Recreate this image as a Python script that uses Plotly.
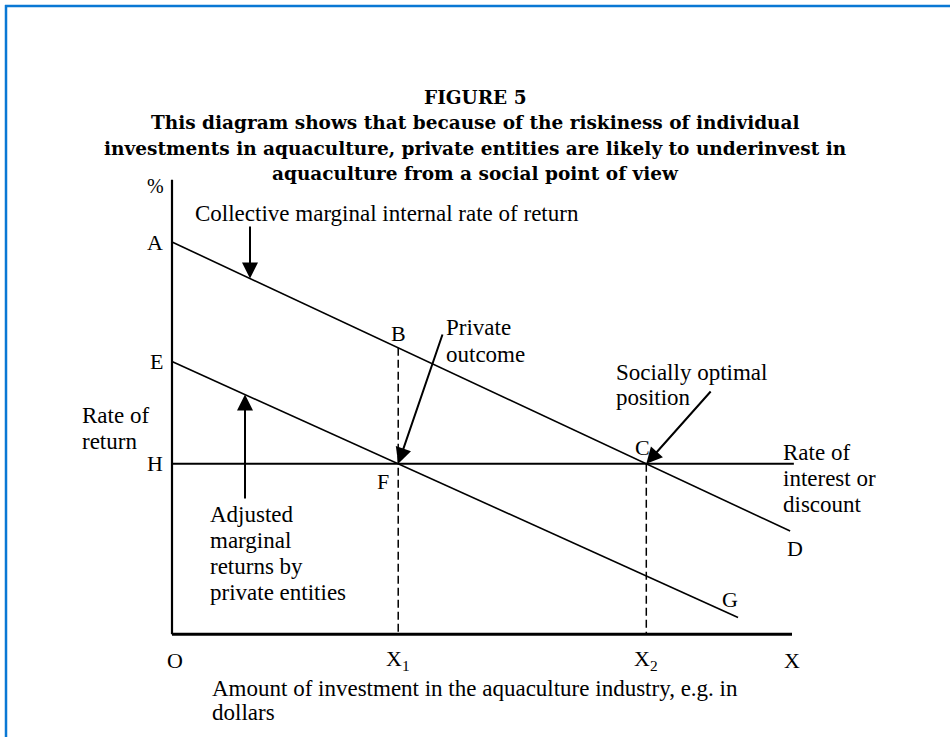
import plotly.graph_objects as go

# ---------------- data (abstract units) ----------------
x_max = 10.0          # length of horizontal axis (investment)
y_max = 10.0          # height of vertical axis (rate of return)
A_y = 8.63            # intercept of collective marginal IRR line
D_pt = [9.97, 2.27]   # end of collective line
E_y = 6.0             # intercept of adjusted private returns line
G_pt = [9.13, 0.37]   # end of adjusted line
H_y = 3.75            # rate of interest or discount
H_end = 10.03         # end of the interest-rate line

y_labels = ["A", "E", "H"]
x_tick_labels = ["O", "X<sub>1</sub>", "X<sub>2</sub>", "X"]

# derived intersections
slope_A = (A_y - D_pt[1]) / D_pt[0]
slope_E = (E_y - G_pt[1]) / G_pt[0]
X1 = (E_y - H_y) / slope_E
X2 = (A_y - H_y) / slope_A
B_y = A_y - slope_A * X1

# ---------------- layout helpers ----------------
W, Hpx = 950, 737
ML, MR, MT, MB = 141, 127, 157, 80
PW, PH = W - ML - MR, Hpx - MT - MB
x0px, ppx = 172, PW / 11.0
y0px = MT + 10.5 * PH / 11.0
ppy = PH / 11.0

def dx(px):
    return (px - x0px) / ppx

def dy(py):
    return (y0px - py) / ppy

def pxp(px):
    return (px - ML) / PW

def pyp(py):
    return (Hpx - MB - py) / PH

BODY = "Liberation Serif"
TITLE = "DejaVu Serif"
black = "#000000"
FS = 23

fig = go.Figure()

def line(xs, ys, width=1.6, dash=None):
    fig.add_trace(go.Scatter(x=xs, y=ys, mode="lines",
                             line=dict(color=black, width=width, dash=dash),
                             hoverinfo="skip", showlegend=False))

# axes
line([0, 0], [0, y_max], width=2.2)
line([0, x_max], [0, 0], width=3)
# curves
line([0, D_pt[0]], [A_y, D_pt[1]], width=1.6)
line([0, G_pt[0]], [E_y, G_pt[1]], width=1.6)
line([0, H_end], [H_y, H_y], width=2)
# dashed drops
line([X1, X1], [B_y, 0], width=1.5, dash="8px,4px")
line([X2, X2], [H_y, 0], width=1.5, dash="8px,4px")

ann = []

def text(x, y, s, xanchor="center", yanchor="middle", size=FS, xshift=0, yshift=0):
    ann.append(dict(x=x, y=y, xref="x", yref="y", text=s,
                    showarrow=False, xanchor=xanchor, yanchor=yanchor,
                    xshift=xshift, yshift=yshift,
                    font=dict(family=BODY, size=size, color=black)))

def ptext(px, py, s, xanchor="left", size=FS, font=BODY):
    ann.append(dict(x=pxp(px), y=pyp(py), xref="paper", yref="paper", text=s,
                    showarrow=False, xanchor=xanchor, yanchor="middle",
                    font=dict(family=font, size=size, color=black)))

# y-axis letter labels
for lab, yv in zip(y_labels, [A_y, E_y, H_y]):
    text(0, yv, lab, xanchor="right", xshift=-7, size=22)
text(0, y_max, "%", xanchor="right", xshift=-6, yshift=-6, size=20)

# x-axis labels
for lab, xv in zip(x_tick_labels, [0, X1, X2, x_max]):
    text(xv, 0, lab, yshift=-26, xshift=(3 if lab == "O" else 0), size=22)

# point labels
text(X1, B_y, "B", yshift=14, size=22)
text(X2, H_y, "C", xshift=-4, yshift=16, size=22)
text(X1, H_y, "F", xshift=-15, yshift=-18, size=22)
text(D_pt[0], D_pt[1], "D", xshift=5, yshift=-17, size=22)
text(G_pt[0], G_pt[1], "G", xshift=-8, yshift=18, size=22)

# descriptive texts
ptext(193, 213, "Collective marginal internal rate of return")
ptext(444, 327, "Private")
ptext(444, 354, "outcome")
ptext(80, 415, "Rate of")
ptext(80, 441, "return")
for i, s in enumerate(["Adjusted", "marginal", "returns by", "private entities"]):
    ptext(208, 514 + 26 * i, s)
ptext(614, 372, "Socially optimal")
ptext(614, 397, "position")
for i, s in enumerate(["Rate of", "interest or", "discount"]):
    ptext(781, 452 + 26 * i, s)
ptext(210, 688, "Amount of investment in the aquaculture industry, e.g. in")
ptext(210, 712, "dollars")

# title
title_lines = ["FIGURE 5",
               "This diagram shows that because of the riskiness of individual",
               "investments in aquaculture, private entities are likely to underinvest in",
               "aquaculture from a social point of view"]
for i, s in enumerate(title_lines):
    ptext(475, 98 + 25 * i, f"<b>{s}</b>", xanchor="center", size=18.5, font=TITLE)

# arrows
def arrow(tip_x, tip_y, tail_x, tail_y):
    ann.append(dict(x=tip_x, y=tip_y, ax=tail_x, ay=tail_y, xref="x", yref="y",
                    axref="x", ayref="y", text="", showarrow=True,
                    arrowhead=2, arrowsize=1.6, arrowwidth=2, arrowcolor=black,
                    standoff=0, startstandoff=0))

ax1 = dx(250)
arrow(ax1, A_y - slope_A * ax1, ax1, dy(225))
ax2 = dx(245)
arrow(ax2, E_y - slope_E * ax2, ax2, dy(500))
arrow(X1, H_y, dx(443), dy(333))
arrow(X2, H_y, dx(712), dy(390))

# blue frame
shapes = [
    dict(type="line", xref="paper", yref="paper", x0=pxp(6), x1=pxp(6),
         y0=pyp(5), y1=pyp(745), line=dict(color="#0a78d4", width=2.5)),
    dict(type="line", xref="paper", yref="paper", x0=pxp(5), x1=pxp(960),
         y0=pyp(6), y1=pyp(6), line=dict(color="#0a78d4", width=2.5)),
]

fig.update_layout(
    width=W, height=Hpx,
    margin=dict(l=ML, r=MR, t=MT, b=MB),
    paper_bgcolor="white", plot_bgcolor="white",
    xaxis=dict(range=[-0.5, 10.5], visible=False, fixedrange=True),
    yaxis=dict(range=[-0.5, 10.5], visible=False, fixedrange=True),
    annotations=ann, shapes=shapes, showlegend=False,
)

fig.write_html("out.html", config={"displayModeBar": False},
               post_script="document.body.style.margin='0px';document.body.style.overflow='hidden';")
